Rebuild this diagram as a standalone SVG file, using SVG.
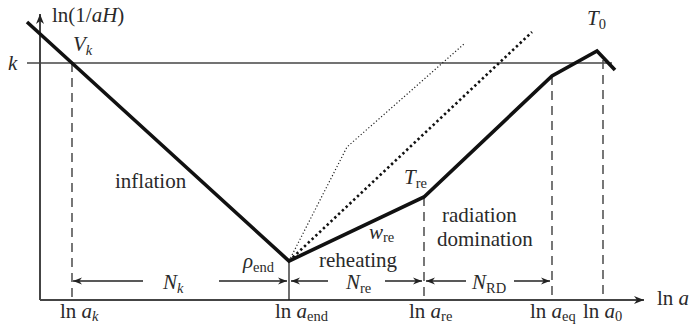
<svg xmlns="http://www.w3.org/2000/svg" width="690" height="325" viewBox="0 0 690 325">
<defs>
<marker id="ah" viewBox="0 0 10 10" refX="10" refY="5" markerWidth="9" markerHeight="9" markerUnits="userSpaceOnUse" orient="auto">
<path d="M0,1 L10,5 L0,9 L3,5 Z" fill="#222"/>
</marker>
<marker id="axh" viewBox="0 0 10 10" refX="10" refY="5" markerWidth="10" markerHeight="10" markerUnits="userSpaceOnUse" orient="auto">
<path d="M0,1 L10,5 L0,9 L3,5 Z" fill="#222"/>
</marker>
</defs>
<style>
text{font-family:"Liberation Serif","DejaVu Serif",serif;fill:#2a2a2a;font-size:21px}
.it{font-style:italic}
.sub{font-size:14.5px}
.axis{stroke:#444;stroke-width:2;fill:none}
.dash{stroke:#555;stroke-width:1.6;stroke-dasharray:9,6;fill:none}
.main{stroke:#111;stroke-width:3.6;fill:none;stroke-linejoin:miter}
.arr{stroke:#222;stroke-width:1.3;fill:none}
</style>
<rect width="690" height="325" fill="#fff"/>
<g id="axes">
<line class="axis" x1="40" y1="300" x2="644" y2="300" marker-end="url(#axh)"/>
<line class="axis" x1="40" y1="300" x2="40" y2="14" marker-end="url(#axh)"/>
<line x1="27" y1="63" x2="612" y2="63" stroke="#444" stroke-width="1.4"/>
</g>
<g id="connectors">
<line class="dash" x1="72" y1="63" x2="72" y2="300"/>
<line x1="289" y1="261" x2="289" y2="300" stroke="#222" stroke-width="1.3"/>
<line class="dash" x1="424" y1="197" x2="424" y2="300"/>
<line class="dash" x1="552" y1="76" x2="552" y2="300"/>
<line class="dash" x1="603" y1="60" x2="603" y2="300"/>
<line class="arr" x1="143" y1="281" x2="73" y2="281" marker-end="url(#ah)"/>
<line class="arr" x1="219" y1="281" x2="287" y2="281" marker-end="url(#ah)"/>
<line class="arr" x1="328" y1="281" x2="291" y2="281" marker-end="url(#ah)"/>
<line class="arr" x1="385" y1="281" x2="422" y2="281" marker-end="url(#ah)"/>
<line class="arr" x1="466" y1="281" x2="426" y2="281" marker-end="url(#ah)"/>
<line class="arr" x1="514" y1="281" x2="550" y2="281" marker-end="url(#ah)"/>
<polyline points="289,261 347,147 464,44" fill="none" stroke="#222" stroke-width="1.2" stroke-dasharray="1.2,2.2"/>
<line x1="289" y1="261" x2="532" y2="32" stroke="#111" stroke-width="2.6" stroke-dasharray="2.4,2.8"/>
<polyline class="main" points="27,22 289,261 424,197 552,76 597,51 615,70"/>
</g>
<g id="labels">
<text x="52" y="22">ln(1/<tspan class="it">aH</tspan>)</text>
<text x="73" y="51" class="it">V<tspan class="sub" dy="4">k</tspan></text>
<text x="8" y="70" class="it">k</text>
<text x="115" y="188">inflation</text>
<text x="243" y="268" class="it">ρ<tspan class="sub" dy="4" font-style="normal">end</tspan></text>
<text x="369" y="239" class="it">w<tspan class="sub" dy="3" font-style="normal">re</tspan></text>
<text x="319" y="267">reheating</text>
<text x="404" y="184" class="it">T<tspan class="sub" dy="4" font-style="normal">re</tspan></text>
<text x="442" y="222">radiation</text>
<text x="437" y="246">domination</text>
<text x="587" y="25" class="it">T<tspan class="sub" dy="4" font-style="normal">0</tspan></text>
<text x="163" y="289" class="it">N<tspan class="sub" dy="4">k</tspan></text>
<text x="346" y="289" class="it">N<tspan class="sub" dy="4" font-style="normal">re</tspan></text>
<text x="472" y="289" class="it">N<tspan class="sub" dy="4" font-style="normal">RD</tspan></text>
<text x="60" y="318">ln <tspan class="it">a<tspan class="sub" dy="3">k</tspan></tspan></text>
<text x="275" y="318">ln <tspan class="it">a<tspan class="sub" dy="3" font-style="normal">end</tspan></tspan></text>
<text x="409" y="318">ln <tspan class="it">a<tspan class="sub" dy="3" font-style="normal">re</tspan></tspan></text>
<text x="530" y="318">ln <tspan class="it">a<tspan class="sub" dy="3" font-style="normal">eq</tspan></tspan></text>
<text x="583" y="318">ln <tspan class="it">a<tspan class="sub" dy="3" font-style="normal">0</tspan></tspan></text>
<text x="657" y="305">ln <tspan class="it">a</tspan></text>
</g>
</svg>
